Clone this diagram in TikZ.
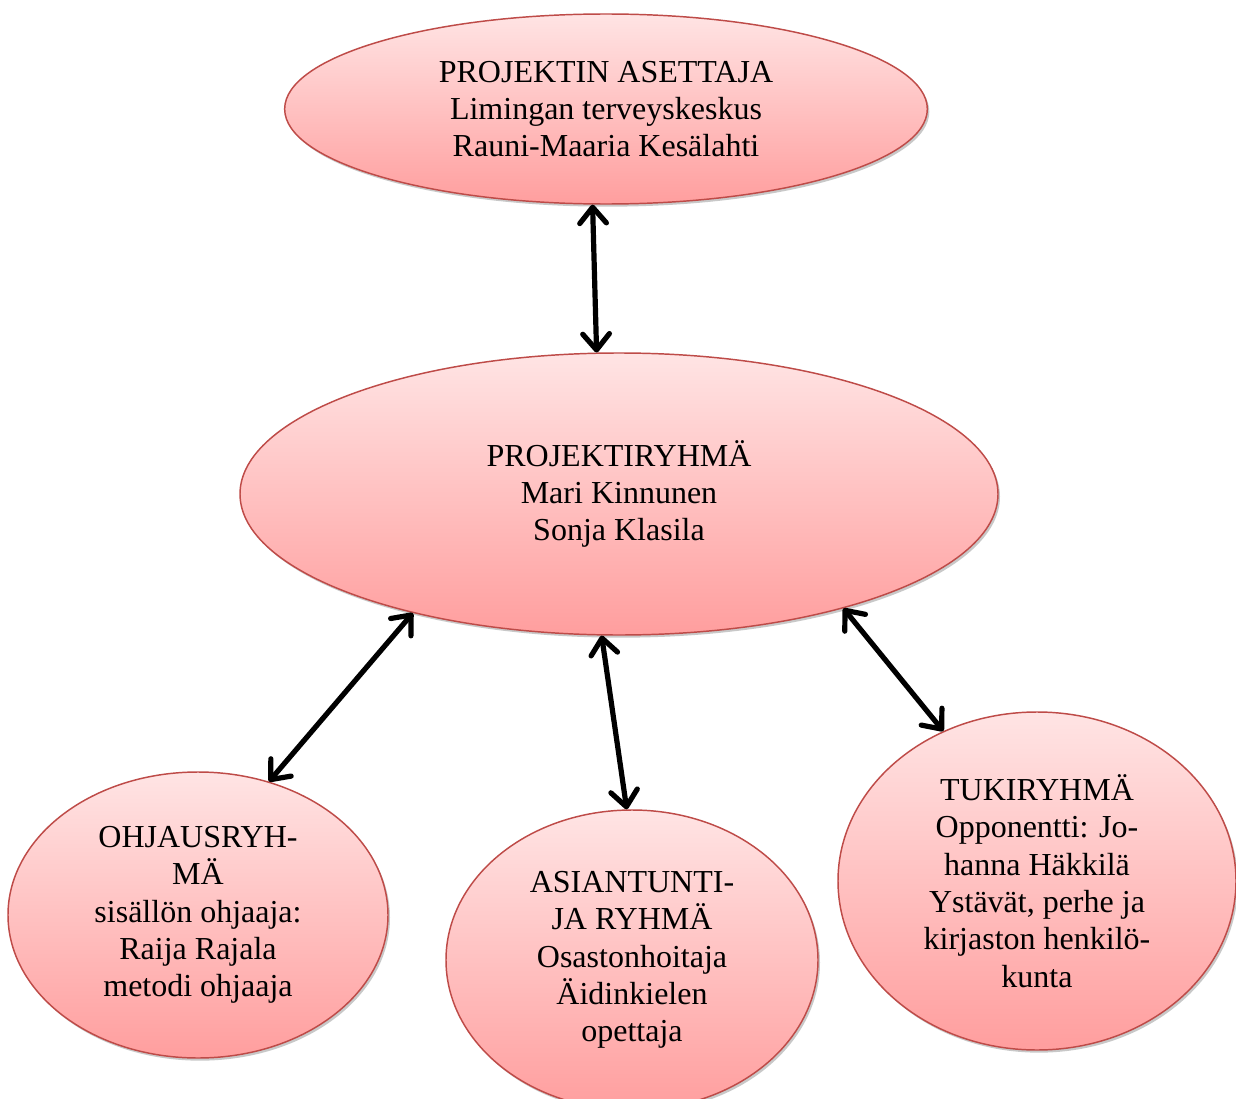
\documentclass[tikz,border=0pt]{standalone}
\usepackage{fontspec}
\setmainfont{Liberation Serif}
\usetikzlibrary{shapes.geometric,arrows.meta,shadows}
\definecolor{bordred}{RGB}{190,75,72}
\definecolor{pinktop}{RGB}{255,228,228}
\definecolor{pinkbot}{RGB}{255,158,158}
\tikzset{
  bubble/.style={ellipse, draw=bordred, line width=1.1pt, inner sep=0pt,
    top color=pinktop, bottom color=pinkbot, align=center,
    font=\fontsize{24}{28}\selectfont,
    drop shadow={shadow xshift=1.5pt, shadow yshift=-2pt, opacity=0.3, fill=black!70}},
  conn/.style={line width=3.9pt, line cap=round, black,
    {Straight Barb[length=12pt,width=20pt,line cap=round,round]}-{Straight Barb[length=12pt,width=20pt,line cap=round,round]}}
}
\begin{document}
\begin{tikzpicture}[x=0.75pt,y=-0.75pt]
\useasboundingbox[fill=white] (0,0) rectangle (1236,1099);
\node[bubble, minimum width=482pt, minimum height=142.5pt] (top) at (606,109)
  {PROJEKTIN ASETTAJA\\Limingan terveyskeskus\\Rauni-Maaria Kesälahti};
\node[bubble, minimum width=568.5pt, minimum height=211.5pt] (mid) at (619,494)
  {PROJEKTIRYHMÄ\\Mari Kinnunen\\Sonja Klasila};
\node[bubble, minimum width=285pt, minimum height=214.5pt] (left) at (198,915)
  {OHJAUSRYH-\\MÄ\\sisällön ohjaaja:\\Raija Rajala\\metodi ohjaaja};
\node[bubble, minimum width=279pt, minimum height=225pt] (mb) at (632,960)
  {ASIANTUNTI-\\JA RYHMÄ\\Osastonhoitaja\\Äidinkielen\\opettaja};
\node[bubble, minimum width=298.5pt, minimum height=253.5pt] (right) at (1037,881)
  {TUKIRYHMÄ\\Opponentti: Jo-\\hanna Häkkilä\\Ystävät, perhe ja\\kirjaston henkilö-\\kunta};
\draw[conn] (top.262.4) -- (mid.99.6);
\draw[conn] (mid.210.5) -- (left.62.9);
\draw[conn] (mid.263.8) -- (mb.92.2);
\draw[conn] (mid.333.8) -- (right.122.8);
\end{tikzpicture}
\end{document}
